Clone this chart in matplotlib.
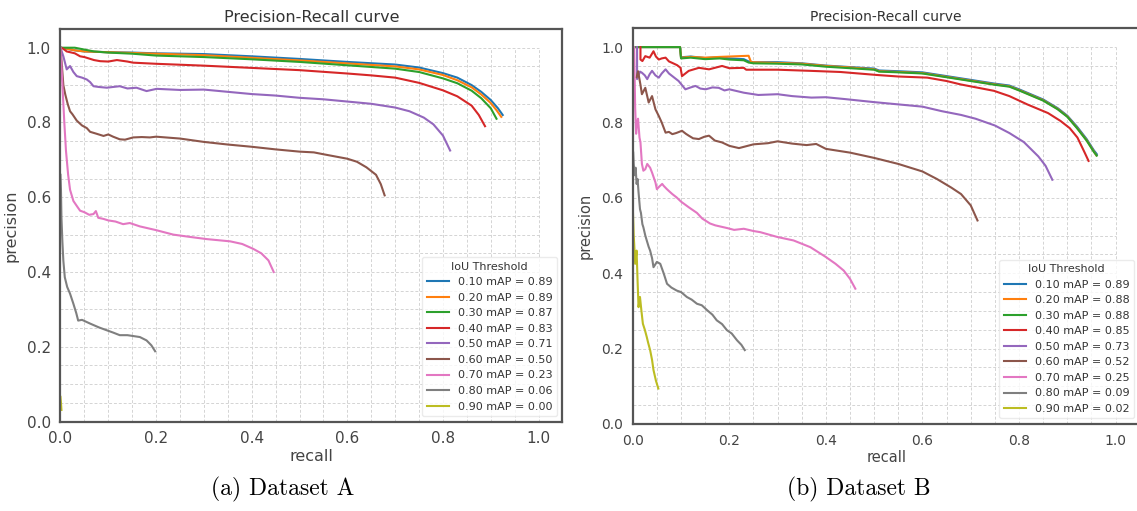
import numpy as np
import matplotlib
matplotlib.use("Agg")
from matplotlib import pyplot as plt

# IoU thresholds and mAP values read from the legends
thresholds = [0.10, 0.20, 0.30, 0.40, 0.50, 0.60, 0.70, 0.80, 0.90]
a_map = [0.89, 0.89, 0.87, 0.83, 0.71, 0.50, 0.23, 0.06, 0.00]
b_map = [0.89, 0.88, 0.88, 0.85, 0.73, 0.52, 0.25, 0.09, 0.02]

# ---- Dataset A curves (recall, precision) ----
a_r10 = [0.0, 0.01, 0.03, 0.05, 0.1, 0.15, 0.2, 0.3, 0.4, 0.5, 0.6, 0.7, 0.75, 0.8, 0.83, 0.86, 0.88, 0.9, 0.915, 0.925]
a_p10 = [1.0, 0.998, 0.993, 0.99, 0.988, 0.987, 0.985, 0.983, 0.977, 0.97, 0.962, 0.955, 0.947, 0.932, 0.92, 0.9, 0.882, 0.86, 0.838, 0.82]
a_r20 = [0.0, 0.01, 0.03, 0.05, 0.1, 0.15, 0.2, 0.3, 0.4, 0.5, 0.6, 0.7, 0.75, 0.8, 0.83, 0.86, 0.88, 0.9, 0.912, 0.922]
a_p20 = [1.0, 0.998, 0.993, 0.99, 0.988, 0.986, 0.984, 0.98, 0.973, 0.966, 0.958, 0.95, 0.942, 0.927, 0.913, 0.894, 0.875, 0.852, 0.833, 0.815]
a_r30 = [0.0, 0.03, 0.05, 0.07, 0.1, 0.15, 0.2, 0.3, 0.4, 0.5, 0.6, 0.7, 0.75, 0.8, 0.83, 0.86, 0.88, 0.9, 0.912]
a_p30 = [1.0, 1.0, 0.995, 0.99, 0.987, 0.984, 0.979, 0.975, 0.969, 0.962, 0.953, 0.944, 0.935, 0.918, 0.905, 0.885, 0.865, 0.838, 0.81]
a_r40 = [0.0, 0.005, 0.013, 0.02, 0.03, 0.041, 0.05, 0.07, 0.083, 0.1, 0.118, 0.14, 0.152, 0.2, 0.3, 0.4, 0.5, 0.6, 0.65, 0.7, 0.75, 0.8, 0.83, 0.86, 0.875, 0.888]
a_p40 = [1.0, 0.998, 0.99, 0.988, 0.985, 0.977, 0.975, 0.967, 0.964, 0.963, 0.967, 0.963, 0.96, 0.957, 0.952, 0.946, 0.94, 0.931, 0.926, 0.92, 0.906, 0.886, 0.87, 0.845, 0.82, 0.79]
a_r50 = [0.0, 0.006, 0.013, 0.02, 0.027, 0.034, 0.045, 0.055, 0.062, 0.069, 0.08, 0.097, 0.11, 0.124, 0.14, 0.159, 0.18, 0.201, 0.25, 0.3, 0.35, 0.4, 0.45, 0.5, 0.55, 0.6, 0.65, 0.7, 0.73, 0.76, 0.78, 0.8, 0.815]
a_p50 = [1.0, 0.977, 0.942, 0.951, 0.935, 0.924, 0.92, 0.915, 0.908, 0.897, 0.895, 0.893, 0.895, 0.897, 0.891, 0.893, 0.884, 0.89, 0.887, 0.888, 0.882, 0.876, 0.872, 0.866, 0.862, 0.856, 0.85, 0.84, 0.83, 0.813, 0.795, 0.765, 0.725]
a_r60 = [0.0, 0.003, 0.006, 0.01, 0.015, 0.02, 0.025, 0.034, 0.045, 0.055, 0.062, 0.075, 0.09, 0.1, 0.11, 0.124, 0.135, 0.152, 0.17, 0.187, 0.2, 0.23, 0.25, 0.3, 0.35, 0.4, 0.45, 0.5, 0.53, 0.55, 0.6, 0.62, 0.64, 0.66, 0.67, 0.678]
a_p60 = [1.0, 0.951, 0.9, 0.875, 0.85, 0.83, 0.822, 0.805, 0.792, 0.785, 0.775, 0.77, 0.764, 0.768, 0.762, 0.755, 0.754, 0.76, 0.761, 0.76, 0.762, 0.759, 0.757, 0.748, 0.741, 0.735, 0.728, 0.722, 0.72, 0.715, 0.703, 0.695, 0.68, 0.66, 0.635, 0.605]
a_r70 = [0.0, 0.004, 0.008, 0.0115, 0.016, 0.02, 0.027, 0.035, 0.041, 0.05, 0.06, 0.069, 0.074, 0.079, 0.09, 0.1, 0.115, 0.131, 0.145, 0.166, 0.2, 0.236, 0.27, 0.306, 0.355, 0.38, 0.403, 0.42, 0.435, 0.446]
a_p70 = [1.0, 0.9, 0.8, 0.724, 0.66, 0.62, 0.59, 0.575, 0.564, 0.56, 0.553, 0.555, 0.563, 0.545, 0.542, 0.538, 0.535, 0.528, 0.531, 0.522, 0.512, 0.5, 0.494, 0.488, 0.482, 0.475, 0.462, 0.45, 0.431, 0.4]
a_r80 = [0.0, 0.001, 0.002, 0.004, 0.006, 0.009, 0.014, 0.02, 0.027, 0.033, 0.037, 0.045, 0.062, 0.08, 0.097, 0.11, 0.124, 0.14, 0.166, 0.18, 0.19, 0.198]
a_p80 = [0.66, 0.62, 0.546, 0.48, 0.43, 0.386, 0.36, 0.342, 0.315, 0.29, 0.27, 0.272, 0.262, 0.252, 0.244, 0.238, 0.231, 0.231, 0.226, 0.217, 0.204, 0.188]
a_r90 = [0.0, 0.001, 0.002]
a_p90 = [0.066, 0.05, 0.031]

# ---- Dataset B curves (recall, precision) ----
b_r10 = [0.0, 0.05, 0.098, 0.1, 0.12, 0.15, 0.18, 0.2, 0.23, 0.24, 0.25, 0.3, 0.35, 0.4, 0.45, 0.5, 0.51, 0.55, 0.6, 0.65, 0.7, 0.75, 0.78, 0.8, 0.85, 0.88, 0.9, 0.92, 0.94, 0.955, 0.961]
b_p10 = [1.0, 1.0, 1.0, 0.973, 0.975, 0.971, 0.973, 0.97, 0.968, 0.962, 0.96, 0.96, 0.957, 0.951, 0.947, 0.943, 0.938, 0.936, 0.933, 0.923, 0.913, 0.903, 0.898, 0.888, 0.861, 0.838, 0.818, 0.789, 0.756, 0.726, 0.716]
b_r20 = [0.0, 0.05, 0.098, 0.1, 0.12, 0.15, 0.18, 0.2, 0.22, 0.24, 0.245, 0.3, 0.35, 0.4, 0.45, 0.5, 0.51, 0.55, 0.6, 0.65, 0.7, 0.75, 0.78, 0.8, 0.85, 0.88, 0.9, 0.92, 0.94, 0.955, 0.96]
b_p20 = [1.0, 1.0, 1.0, 0.972, 0.974, 0.972, 0.974, 0.975, 0.976, 0.977, 0.96, 0.958, 0.956, 0.95, 0.946, 0.941, 0.936, 0.934, 0.931, 0.921, 0.911, 0.901, 0.896, 0.886, 0.859, 0.836, 0.816, 0.786, 0.753, 0.723, 0.713]
b_r30 = [0.0, 0.05, 0.098, 0.1, 0.12, 0.15, 0.18, 0.2, 0.23, 0.24, 0.25, 0.3, 0.35, 0.4, 0.45, 0.5, 0.51, 0.55, 0.6, 0.65, 0.7, 0.75, 0.78, 0.8, 0.85, 0.88, 0.9, 0.92, 0.94, 0.955, 0.961]
b_p30 = [1.0, 1.0, 1.0, 0.97, 0.972, 0.968, 0.97, 0.967, 0.965, 0.959, 0.957, 0.956, 0.954, 0.948, 0.944, 0.94, 0.935, 0.933, 0.93, 0.92, 0.91, 0.9, 0.895, 0.885, 0.858, 0.835, 0.815, 0.785, 0.752, 0.722, 0.712]
b_r40 = [0.016, 0.016, 0.02, 0.026, 0.035, 0.043, 0.048, 0.054, 0.06, 0.068, 0.075, 0.082, 0.092, 0.099, 0.102, 0.116, 0.137, 0.158, 0.185, 0.2, 0.23, 0.235, 0.3, 0.368, 0.43, 0.506, 0.55, 0.61, 0.65, 0.679, 0.748, 0.78, 0.817, 0.86, 0.886, 0.905, 0.921, 0.936, 0.944]
b_p40 = [1.0, 0.967, 0.963, 0.976, 0.972, 0.989, 0.975, 0.967, 0.97, 0.972, 0.962, 0.958, 0.952, 0.945, 0.923, 0.937, 0.945, 0.941, 0.95, 0.944, 0.945, 0.94, 0.94, 0.937, 0.934, 0.926, 0.922, 0.919, 0.91, 0.901, 0.884, 0.87, 0.848, 0.825, 0.804, 0.785, 0.76, 0.72, 0.698]
b_r50 = [0.009, 0.009, 0.015, 0.019, 0.025, 0.03, 0.035, 0.04, 0.047, 0.054, 0.06, 0.068, 0.075, 0.082, 0.095, 0.109, 0.12, 0.13, 0.14, 0.151, 0.165, 0.178, 0.19, 0.2, 0.23, 0.26, 0.3, 0.33, 0.37, 0.4, 0.44, 0.5, 0.55, 0.6, 0.64, 0.68, 0.71, 0.75, 0.78, 0.81, 0.84, 0.855, 0.869]
b_p50 = [1.0, 0.915, 0.935, 0.932, 0.925, 0.915, 0.928, 0.937, 0.925, 0.919, 0.93, 0.941, 0.93, 0.923, 0.91, 0.888, 0.893, 0.897, 0.89, 0.888, 0.893, 0.892, 0.885, 0.888, 0.879, 0.873, 0.875, 0.87, 0.866, 0.867, 0.862, 0.854, 0.848, 0.842, 0.83, 0.82, 0.81, 0.792, 0.772, 0.748, 0.71, 0.685, 0.648]
b_r60 = [0.008, 0.011, 0.016, 0.019, 0.026, 0.033, 0.04, 0.047, 0.054, 0.06, 0.068, 0.075, 0.082, 0.09, 0.102, 0.11, 0.116, 0.125, 0.137, 0.148, 0.158, 0.17, 0.185, 0.2, 0.22, 0.25, 0.28, 0.3, 0.33, 0.36, 0.38, 0.4, 0.45, 0.5, 0.55, 0.6, 0.63, 0.66, 0.68, 0.7, 0.714]
b_p60 = [0.92, 0.936, 0.9, 0.875, 0.892, 0.853, 0.87, 0.835, 0.817, 0.8, 0.773, 0.775, 0.769, 0.772, 0.778, 0.77, 0.765, 0.758, 0.756, 0.762, 0.765, 0.752, 0.747, 0.738, 0.732, 0.742, 0.745, 0.75, 0.744, 0.74, 0.743, 0.73, 0.72, 0.706, 0.69, 0.67, 0.65, 0.627, 0.61, 0.58, 0.54]
b_r70 = [0.003, 0.005, 0.007, 0.009, 0.011, 0.014, 0.016, 0.019, 0.022, 0.026, 0.03, 0.033, 0.036, 0.04, 0.047, 0.05, 0.055, 0.061, 0.064, 0.07, 0.075, 0.082, 0.091, 0.1, 0.116, 0.133, 0.144, 0.16, 0.171, 0.195, 0.21, 0.23, 0.25, 0.264, 0.3, 0.333, 0.368, 0.4, 0.42, 0.437, 0.45, 0.461]
b_p70 = [1.0, 0.84, 0.77, 0.8, 0.81, 0.76, 0.747, 0.69, 0.672, 0.676, 0.69, 0.685, 0.68, 0.667, 0.641, 0.623, 0.63, 0.637, 0.632, 0.624, 0.618, 0.61, 0.601, 0.59, 0.575, 0.56, 0.545, 0.532, 0.527, 0.52, 0.515, 0.518, 0.512, 0.509, 0.496, 0.487, 0.469, 0.443, 0.425, 0.407, 0.385, 0.359]
b_r80 = [0.001, 0.002, 0.004, 0.006, 0.008, 0.01, 0.012, 0.015, 0.017, 0.02, 0.022, 0.026, 0.029, 0.033, 0.036, 0.04, 0.043, 0.05, 0.057, 0.064, 0.071, 0.08, 0.091, 0.1, 0.112, 0.122, 0.133, 0.143, 0.154, 0.165, 0.174, 0.185, 0.195, 0.205, 0.216, 0.225, 0.232]
b_p80 = [0.72, 0.69, 0.66, 0.68, 0.637, 0.65, 0.615, 0.57, 0.56, 0.53, 0.522, 0.5, 0.487, 0.47, 0.46, 0.44, 0.416, 0.43, 0.425, 0.4, 0.372, 0.362, 0.354, 0.35, 0.337, 0.33, 0.319, 0.315, 0.302, 0.29, 0.275, 0.265, 0.249, 0.24, 0.222, 0.21, 0.196]
b_r90 = [0.0, 0.002, 0.003, 0.005, 0.008, 0.01, 0.012, 0.015, 0.018, 0.021, 0.025, 0.029, 0.032, 0.036, 0.04, 0.043, 0.048, 0.053]
b_p90 = [0.58, 0.5, 0.478, 0.425, 0.46, 0.38, 0.31, 0.337, 0.3, 0.266, 0.25, 0.231, 0.215, 0.196, 0.17, 0.143, 0.115, 0.094]

a_curves = [(a_r10, a_p10), (a_r20, a_p20), (a_r30, a_p30), (a_r40, a_p40), (a_r50, a_p50),
            (a_r60, a_p60), (a_r70, a_p70), (a_r80, a_p80), (a_r90, a_p90)]
b_curves = [(b_r10, b_p10), (b_r20, b_p20), (b_r30, b_p30), (b_r40, b_p40), (b_r50, b_p50),
            (b_r60, b_p60), (b_r70, b_p70), (b_r80, b_p80), (b_r90, b_p90)]

colors = plt.get_cmap("tab10").colors
FRAME = "#555555"
TEXT = "#444444"


def draw_panel(ax, curves, maps, fs_tick, fs_label, fs_title):
    # grid only spans the unit square, like the original
    steps = np.arange(0, 1.0001, 0.05)
    ax.hlines(steps, 0, 1, colors="#d4d4d4", linestyles=(0, (3, 2)), lw=0.7, zorder=0)
    ax.vlines(steps, 0, 1, colors="#d4d4d4", linestyles=(0, (3, 2)), lw=0.7, zorder=0)

    for i, (r, p) in enumerate(curves):
        ax.plot(r, p, color=colors[i], lw=1.5,
                label=f"{thresholds[i]:.2f} mAP = {maps[i]:.2f}")

    ax.set_xlim(0, 1.05)
    ax.set_ylim(0, 1.05)
    ax.set_xticks([0, 0.2, 0.4, 0.6, 0.8, 1.0])
    ax.set_yticks([0, 0.2, 0.4, 0.6, 0.8, 1.0])
    ax.tick_params(length=0, pad=7, labelsize=fs_tick, colors=TEXT)
    for s in ax.spines.values():
        s.set_color(FRAME)
        s.set_linewidth(1.6)
    ax.set_xlabel("recall", fontsize=fs_label, color=TEXT, labelpad=2)
    ax.set_ylabel("precision", fontsize=fs_label, color=TEXT, labelpad=6)
    ax.set_title("Precision-Recall curve", fontsize=fs_title, color="#333333", pad=5)
    leg = ax.legend(loc="lower right", title="IoU Threshold", fontsize=8, title_fontsize=8,
                    framealpha=0.8, edgecolor="#e6e6e6", fancybox=True)
    for t in leg.get_texts():
        t.set_color("#333333")
    leg.get_title().set_color("#333333")


fig = plt.figure(figsize=(11.37, 5.11), dpi=100)
ax_a = fig.add_axes([0.0532, 0.1751, 0.4415, 0.7681])
ax_b = fig.add_axes([0.5565, 0.1703, 0.4459, 0.7744])

draw_panel(ax_a, a_curves, a_map, 11, 11.5, 11.5)
draw_panel(ax_b, b_curves, b_map, 10, 10.5, 10)

fig.text(0.2485, 0.03, "(a) Dataset A", fontsize=17, family="cmr10", ha="center", va="baseline")
fig.text(0.755, 0.03, "(b) Dataset B", fontsize=17, family="cmr10", ha="center", va="baseline")

fig.savefig("out.png", dpi=100)
